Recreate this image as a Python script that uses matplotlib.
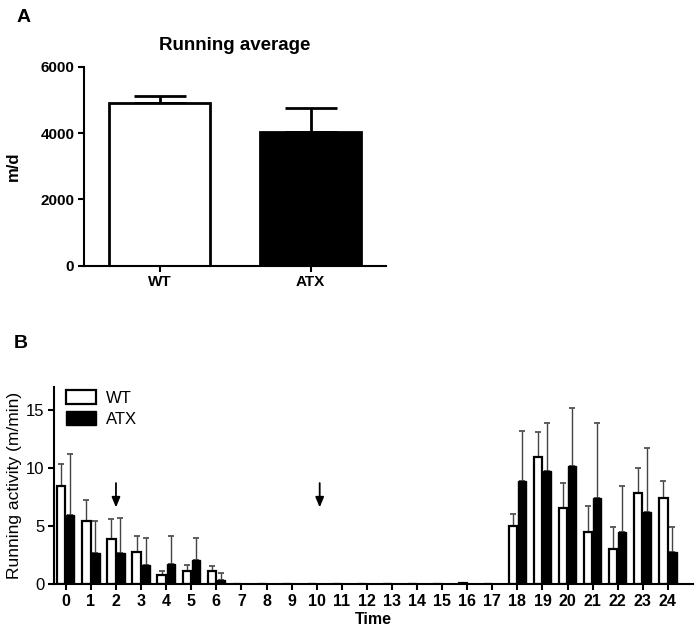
import matplotlib as mpl
mpl.use("Agg")
import matplotlib.pyplot as plt
import numpy as np

mpl.rcParams.update({
    "font.family": ["Liberation Sans", "DejaVu Sans"],
    "axes.spines.top": False,
    "axes.spines.right": False,
    "axes.linewidth": 1.5,
})

# panel A: running average (m/d)
groups = ["WT", "ATX"]
avg_mean = [4900, 4040]
avg_err = [220, 720]

# panel B: running activity per hour (m/min)
hours = list(range(25))
wt_mean = [8.46, 5.44, 3.91, 2.79, 0.75, 1.15, 1.09, 0, 0, 0, 0, 0, 0, 0, 0, 0, 0.1, 0,
           5.04, 10.94, 6.59, 4.46, 3.05, 7.83, 7.45]
wt_err = [1.84, 1.79, 1.73, 1.38, 0.37, 0.52, 0.46, 0, 0, 0, 0, 0, 0, 0, 0, 0, 0, 0,
          0.96, 2.16, 2.11, 2.24, 1.9, 2.21, 1.45]
atx_mean = [5.96, 2.7, 2.7, 1.67, 1.75, 2.07, 0.37, 0, 0, 0, 0, 0, 0, 0, 0, 0, 0, 0,
            8.9, 9.7, 10.13, 7.43, 4.52, 6.19, 2.76]
atx_err = [5.24, 2.77, 3.03, 2.33, 2.42, 1.87, 0.55, 0, 0, 0, 0, 0, 0, 0, 0, 0, 0, 0,
           4.3, 4.2, 5.07, 6.47, 3.94, 5.51, 2.16]
arrow_hours = [2, 10.12]

fig = plt.figure(figsize=(6.96, 6.32), dpi=100)

# ---- A ----
axA = fig.add_axes([0.1207, 0.5796, 0.4339, 0.3149])
xa = np.arange(len(groups))
axA.bar(xa, avg_mean, width=0.67, color=["white", "black"], edgecolor="black",
        linewidth=2.0, zorder=2)
axA.errorbar(xa, avg_mean, yerr=[[0, 0], avg_err], fmt="none", ecolor="black",
             elinewidth=2.0, capsize=19, capthick=2.0, zorder=1)
axA.set_xlim(-0.5, 1.5)
axA.set_ylim(0, 6000)
axA.set_yticks([0, 2000, 4000, 6000])
axA.set_xticks(xa)
axA.set_xticklabels(groups, fontweight="bold", fontsize=11)
for lab in axA.get_yticklabels():
    lab.set_fontweight("bold")
    lab.set_fontsize(11)
axA.tick_params(axis="both", length=4, width=1.5, pad=3)
axA.set_ylabel("m/d", fontweight="bold", fontsize=12, va="center")
axA.yaxis.set_label_coords(-0.235, 0.5)
axA.set_title("Running average", fontweight="bold", fontsize=13.5, pad=12)
fig.text(0.024, 0.973, "A", fontweight="bold", fontsize=14, va="center")

# ---- B ----
axB = fig.add_axes([0.0776, 0.0759, 0.9181, 0.3122])
xb = np.array(hours)
off = 0.18
w = 0.33
axB.bar(xb - off, wt_mean, width=w, color="white", edgecolor="black", linewidth=1.6,
        label="WT", zorder=2)
axB.bar(xb + off, atx_mean, width=w, color="black", edgecolor="black", linewidth=1.0,
        label="ATX", zorder=2)
wt_m = np.array(wt_mean)
atx_m = np.array(atx_mean)
mw = np.array(wt_err) > 0
ma = np.array(atx_err) > 0
axB.errorbar((xb - off)[mw], wt_m[mw], yerr=[np.zeros(mw.sum()), np.array(wt_err)[mw]],
             fmt="none", ecolor="#444444", elinewidth=1.0, capsize=2, capthick=1.2, zorder=1)
axB.errorbar((xb + off)[ma], atx_m[ma], yerr=[np.zeros(ma.sum()), np.array(atx_err)[ma]],
             fmt="none", ecolor="#444444", elinewidth=1.0, capsize=2, capthick=1.2, zorder=1)
for h in arrow_hours:
    axB.annotate("", xy=(h, 6.6), xytext=(h, 8.7),
                 arrowprops=dict(arrowstyle="-|>,head_width=0.25,head_length=0.6",
                                 color="black", lw=1.3, shrinkA=0, shrinkB=0))
axB.set_xlim(-0.47, 25)
axB.set_ylim(0, 17)
axB.set_yticks([0, 5, 10, 15])
axB.set_xticks(xb)
axB.set_xticklabels([str(h) for h in hours], fontweight="bold", fontsize=11.5)
for lab in axB.get_yticklabels():
    lab.set_fontsize(12)
axB.tick_params(axis="both", length=4, width=1.5, pad=3)
axB.set_xlabel("Time", fontweight="bold", fontsize=11.5, labelpad=2)
axB.set_ylabel("Running activity (m/min)", fontsize=12.5, va="center")
axB.yaxis.set_label_coords(-0.062, 0.5)
leg = axB.legend(loc="upper left", bbox_to_anchor=(0.0, 1.04), frameon=False,
                 fontsize=12, handlelength=1.8, handleheight=0.9, handletextpad=0.6,
                 labelspacing=0.3, borderaxespad=0.3)
fig.text(0.02, 0.457, "B", fontweight="bold", fontsize=14, va="center")

fig.savefig("out.png", dpi=100)
